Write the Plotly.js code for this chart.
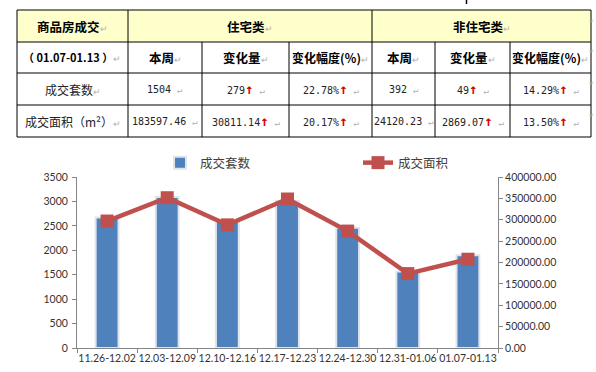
<!DOCTYPE html>
<html>
<head>
<meta charset="utf-8">
<script src="https://cdn.plot.ly/plotly-3.0.1.min.js"></script>
<style>html,body{margin:0;padding:0;background:#fff;}#chart{width:596px;height:372px;}</style>
</head>
<body>
<div id="chart"></div>
<script>
// ---- chart data ----
const categories = ['11.26-12.02','12.03-12.09','12.10-12.16','12.17-12.23','12.24-12.30','12.31-01.06','01.07-01.13'];
const units = [2670, 3090, 2600, 3010, 2460, 1568, 1896];          // 成交套数
const area = [297000, 351500, 288000, 348500, 273500, 174037.48, 207717.69]; // 成交面积
const seriesNames = ['成交套数', '成交面积'];

// ---- table data ----
const tableTitle = ['商品房成交', '（ 01.07-01.13 ）'];
const groupHeaders = ['住宅类', '非住宅类'];
const colHeaders = ['本周', '变化量', '变化幅度(％)', '本周', '变化量', '变化幅度(％)'];
const rowLabels = ['成交套数', '成交面积（m²）'];
const rowValues = [
  ['1504', '279', '22.78%', '392', '49', '14.29%'],
  ['183597.46', '30811.14', '20.17%', '24120.23', '2869.07', '13.50%']
];
const rowUp = [
  [false, true, true, false, true, true],
  [false, true, true, false, true, true]
];

// ---- layout geometry (pixels) ----
const PL = 77, PR = 498, PT = 177, PB = 348;
const X = px => (px - PL) / (PR - PL);
const Y = py => (PB - py) / (PB - PT);

const tX = [17, 128, 202, 289, 372, 435, 510, 591];
const tY = [10, 42, 73, 105, 137];

const shapes = [];
const ann = [];
const line = (x0, y0, x1, y1, c, w) => shapes.push({type:'line', xref:'paper', yref:'paper',
  x0:X(x0), y0:Y(y0), x1:X(x1), y1:Y(y1), line:{color:c||'#000', width:w||1}});

// yellow header
shapes.push({type:'rect', xref:'paper', yref:'paper', x0:X(tX[0]), x1:X(tX[7]), y0:Y(tY[0]), y1:Y(tY[1]),
  fillcolor:'#FFFFCC', line:{width:0}, layer:'below'});
// horizontal lines
tY.forEach(y => line(tX[0], y, tX[7], y));
// vertical lines
[tX[0], tX[1], tX[4], tX[7]].forEach(x => line(x, tY[0], x, tY[4]));
[tX[2], tX[3], tX[5], tX[6]].forEach(x => line(x, tY[1], x, tY[4]));
// tiny mark above table
line(466.5, 0, 466.5, 4, '#000', 1.5);

const RET = '<span style="color:#b0b0b0;font-size:9px">↵</span>';
const UP = '<b><span style="color:#e00000;font-size:14px">↑</span></b>';
const txt = (x, y, t, f) => ann.push({xref:'paper', yref:'paper', x:X(x), y:Y(y), text:t,
  showarrow:false, xanchor:'center', yanchor:'middle',
  font:Object.assign({family:'"DejaVu Sans Mono", "Noto Sans CJK SC", monospace', size:10.5, color:'#000'}, f||{})});
const HF = {family:'"Noto Sans CJK SC", sans-serif', size:12.5, color:'#000'};
const NF = {family:'"DejaVu Sans Mono", "Noto Sans CJK SC", monospace', size:10, color:'#222'};

const mid = (a, b) => (a + b) / 2;
txt(mid(tX[0], tX[1]), mid(tY[0], tY[1]), '<b>' + tableTitle[0] + '</b>' + RET, HF);
txt(mid(tX[0], tX[1]) - 1, mid(tY[1], tY[2]), '<b>' + tableTitle[1] + '</b>' + RET, {family:'"Noto Sans CJK SC", sans-serif', size:11});
txt(mid(tX[1], tX[4]), mid(tY[0], tY[1]), '<b>' + groupHeaders[0] + '</b>' + RET, HF);
txt(mid(tX[4], tX[7]), mid(tY[0], tY[1]), '<b>' + groupHeaders[1] + '</b>' + RET, HF);
colHeaders.forEach((h, i) => {
  const f = h.length > 3 ? Object.assign({}, HF, {size:12}) : HF;
  txt(mid(tX[i + 1], tX[i + 2]), mid(tY[1], tY[2]), '<b>' + h + '</b>' + RET, f);
});
rowLabels.forEach((r, j) => {
  txt(mid(tX[0], tX[1]), mid(tY[j + 2], tY[j + 3]), r + RET, {family:'"Noto Sans CJK SC", sans-serif', size:12, color:'#222'});
  rowValues[j].forEach((v, i) => {
    txt(mid(tX[i + 1], tX[i + 2]), mid(tY[j + 2], tY[j + 3]), v + (rowUp[j][i] ? UP : '') + ' ' + RET, NF);
  });
});
// paragraph marks right of table
[20, 51, 83, 115].forEach(y => ann.push({xref:'paper', yref:'paper', x:X(596), y:Y(y), text:'↵',
  showarrow:false, xanchor:'right', yanchor:'middle', font:{size:6, color:'#b0b0b0', family:'DejaVu Sans'}}));

const tickFont = {family:'Lato, "Open Sans", sans-serif', size:10.5, color:'#333'};
const legFont = {family:'"Noto Sans CJK SC", sans-serif', size:12.5, color:'#404040'};

const traces = [
  {type:'bar', name:seriesNames[0], x:categories, y:units, width:0.38, legend:'legend',
   marker:{color:'#4F81BD', line:{color:'#dfe4ec', width:2}}, yaxis:'y'},
  {type:'scatter', mode:'lines+markers', name:seriesNames[1], x:categories, y:area, yaxis:'y2', legend:'legend2',
   line:{color:'#C0504D', width:4.5}, marker:{symbol:'square', size:13, color:'#C0504D'}}
];

const layout = {
  width:596, height:372,
  margin:{l:PL, r:596 - PR, t:PT, b:372 - PB, pad:0},
  paper_bgcolor:'#fff', plot_bgcolor:'#fff',
  showlegend:true,
  legend:{orientation:'h', x:X(160), xanchor:'left', y:Y(163), yanchor:'middle',
    itemwidth:30, font:legFont, bgcolor:'rgba(0,0,0,0)'},
  legend2:{orientation:'h', x:X(358), xanchor:'left', y:Y(163), yanchor:'middle',
    itemwidth:30, font:legFont, bgcolor:'rgba(0,0,0,0)'},
  xaxis:{type:'category', showgrid:false, showline:true, linecolor:'#868686', linewidth:1,
    ticks:'outside', tickson:'boundaries', ticklen:4, tickcolor:'#868686', tickfont:tickFont,
    tickangle:0, zeroline:false, fixedrange:true},
  yaxis:{range:[0, 3500], dtick:500, showgrid:false, showline:true, linecolor:'#868686',
    ticks:'outside', ticklen:4, tickcolor:'#868686', tickfont:tickFont, zeroline:false, ticklabelstandoff:2},
  yaxis2:{range:[0, 400000], dtick:50000, tickformat:'.2f', overlaying:'y', side:'right',
    showgrid:false, showline:true, linecolor:'#868686', ticks:'outside', ticklen:4,
    tickcolor:'#868686', tickfont:tickFont, zeroline:false},
  shapes:shapes, annotations:ann,
  bargap:0.62
};

Plotly.newPlot('chart', traces, layout, {displayModeBar:false, staticPlot:true});
</script>
</body>
</html>
